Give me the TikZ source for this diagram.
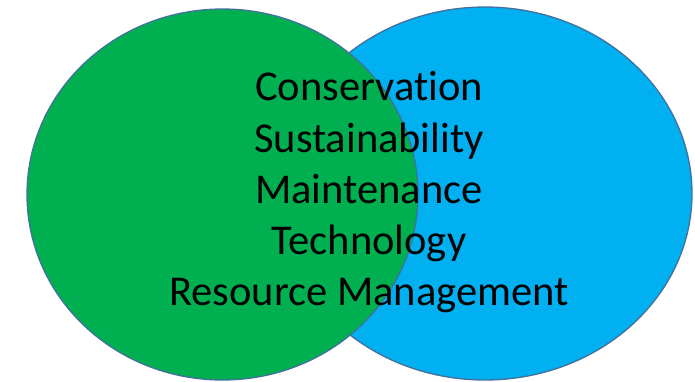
\documentclass[tikz,border=0pt]{standalone}
\usepackage{fontspec}
\setmainfont{Carlito}[Ligatures=NoCommon]
\definecolor{vgreen}{HTML}{00B050}
\definecolor{vblue}{HTML}{00B0F0}
\definecolor{vline}{HTML}{41719C}
\begin{document}
\begin{tikzpicture}[x=1pt,y=-1pt,
  setshape/.style={draw=vline,line width=1.3pt},
  term/.style={anchor=base,font=\fontsize{42.5}{50}\selectfont,text=black,inner sep=0pt}]
\useasboundingbox (0,0) rectangle (695,381);
\fill[white] (0,0) rectangle (695,381);
\draw[setshape,fill=vblue] (485,193.5) ellipse [x radius=207,y radius=186.5];
\draw[setshape,fill=vgreen] (222.5,194.5) ellipse [x radius=195.5,y radius=185.5];
\node[term] (t1) at (369,100) {Conservation};
\node[term] (t2) at (369,152) {Sustainability};
\node[term] (t3) at (369,203) {Maintenance};
\node[term] (t4) at (369,254) {Technology};
\node[term] (t5) at (369,305) {Resource Management};
\end{tikzpicture}
\end{document}
